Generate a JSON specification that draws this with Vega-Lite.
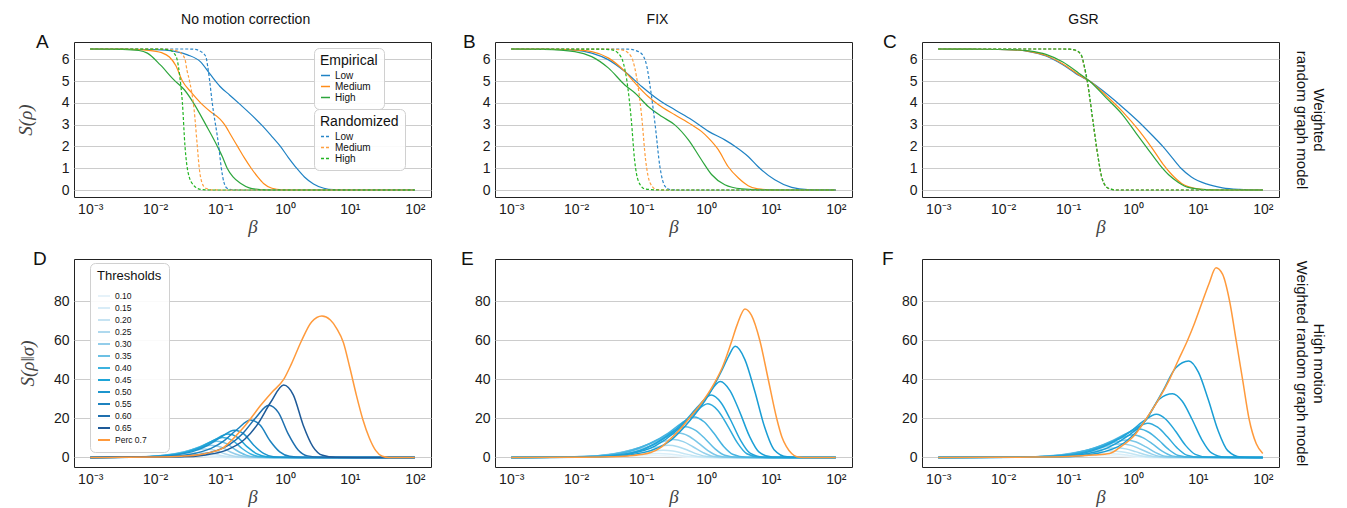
{
"$schema":"https://vega.github.io/schema/vega-lite/v6.json",
"background":"white",
"padding":{"left":15,"top":12,"right":2,"bottom":0},
"config":{
 "font":"Liberation Sans",
 "view":{"stroke":"#222222","strokeWidth":1},
 "axis":{"labelFont":"Liberation Sans","labelFontSize":14,"labelColor":"#1a1a1a","labelOverlap":false,"ticks":false,"domain":false,"labelPadding":5,"gridColor":"#cccccc","gridWidth":1,"titleFont":"Liberation Serif","titleFontStyle":"italic","titleFontWeight":"normal","titleFontSize":19,"titleColor":"#444444"},
 "axisX":{"grid":false,"titlePadding":1},
 "axisY":{"grid":true},
 "title":{"font":"Liberation Sans","fontWeight":"normal","color":"#111111"},
 "legend":{"symbolType":"stroke","labelFont":"Liberation Sans","titleFont":"Liberation Sans","titleFontWeight":"normal","labelColor":"#111111","titleColor":"#111111","fillColor":"rgba(255,255,255,0.9)","strokeColor":"#d0d0d0","cornerRadius":5}
},
"datasets":{
"A_emp":[
{"s":"Low","x":-3,"y":6.47},{"s":"Low","x":-2.5,"y":6.46},{"s":"Low","x":-2,"y":6.44},{"s":"Low","x":-1.7,"y":6.36},{"s":"Low","x":-1.5,"y":6.2},{"s":"Low","x":-1.3,"y":5.88},{"s":"Low","x":-1.15,"y":5.3},{"s":"Low","x":-1.0,"y":4.75},{"s":"Low","x":-0.85,"y":4.35},{"s":"Low","x":-0.7,"y":3.95},{"s":"Low","x":-0.5,"y":3.4},{"s":"Low","x":-0.35,"y":2.95},{"s":"Low","x":-0.2,"y":2.45},{"s":"Low","x":-0.07,"y":2.0},{"s":"Low","x":0.05,"y":1.5},{"s":"Low","x":0.18,"y":1.0},{"s":"Low","x":0.3,"y":0.6},{"s":"Low","x":0.44,"y":0.28},{"s":"Low","x":0.6,"y":0.08},{"s":"Low","x":0.75,"y":0.015},{"s":"Low","x":1,"y":0},{"s":"Low","x":2,"y":0},
{"s":"Medium","x":-3,"y":6.47},{"s":"Medium","x":-2.5,"y":6.46},{"s":"Medium","x":-2.1,"y":6.41},{"s":"Medium","x":-1.9,"y":6.3},{"s":"Medium","x":-1.78,"y":6.1},{"s":"Medium","x":-1.68,"y":5.7},{"s":"Medium","x":-1.58,"y":5.0},{"s":"Medium","x":-1.45,"y":4.5},{"s":"Medium","x":-1.3,"y":4.0},{"s":"Medium","x":-1.15,"y":3.6},{"s":"Medium","x":-1.0,"y":3.25},{"s":"Medium","x":-0.93,"y":3.0},{"s":"Medium","x":-0.83,"y":2.5},{"s":"Medium","x":-0.73,"y":2.0},{"s":"Medium","x":-0.62,"y":1.45},{"s":"Medium","x":-0.52,"y":1.0},{"s":"Medium","x":-0.42,"y":0.6},{"s":"Medium","x":-0.33,"y":0.3},{"s":"Medium","x":-0.2,"y":0.08},{"s":"Medium","x":-0.05,"y":0.01},{"s":"Medium","x":0.3,"y":0},{"s":"Medium","x":2,"y":0},
{"s":"High","x":-3,"y":6.47},{"s":"High","x":-2.5,"y":6.45},{"s":"High","x":-2.25,"y":6.4},{"s":"High","x":-2.12,"y":6.28},{"s":"High","x":-1.92,"y":5.74},{"s":"High","x":-1.71,"y":5.05},{"s":"High","x":-1.55,"y":4.6},{"s":"High","x":-1.41,"y":4.0},{"s":"High","x":-1.22,"y":3.0},{"s":"High","x":-1.04,"y":2.0},{"s":"High","x":-0.96,"y":1.5},{"s":"High","x":-0.89,"y":1.0},{"s":"High","x":-0.8,"y":0.6},{"s":"High","x":-0.68,"y":0.3},{"s":"High","x":-0.55,"y":0.1},{"s":"High","x":-0.45,"y":0.04},{"s":"High","x":-0.3,"y":0.01},{"s":"High","x":0,"y":0},{"s":"High","x":2,"y":0}
],
"A_rnd":[
{"s":"Low","x":-3,"y":6.47},{"s":"Low","x":-1.5,"y":6.47},{"s":"Low","x":-1.38,"y":6.45},{"s":"Low","x":-1.3,"y":6.36},{"s":"Low","x":-1.22,"y":6.13},{"s":"Low","x":-1.19,"y":5.67},{"s":"Low","x":-1.16,"y":5.0},{"s":"Low","x":-1.12,"y":4.0},{"s":"Low","x":-1.02,"y":2.0},{"s":"Low","x":-0.98,"y":1.0},{"s":"Low","x":-0.94,"y":0.35},{"s":"Low","x":-0.89,"y":0.08},{"s":"Low","x":-0.8,"y":0.01},{"s":"Low","x":-0.6,"y":0},{"s":"Low","x":2,"y":0},
{"s":"Medium","x":-3,"y":6.47},{"s":"Medium","x":-1.85,"y":6.46},{"s":"Medium","x":-1.71,"y":6.42},{"s":"Medium","x":-1.61,"y":6.3},{"s":"Medium","x":-1.54,"y":6.0},{"s":"Medium","x":-1.51,"y":5.5},{"s":"Medium","x":-1.47,"y":5.0},{"s":"Medium","x":-1.4,"y":3.7},{"s":"Medium","x":-1.35,"y":2.0},{"s":"Medium","x":-1.32,"y":1.0},{"s":"Medium","x":-1.28,"y":0.35},{"s":"Medium","x":-1.22,"y":0.08},{"s":"Medium","x":-1.12,"y":0.01},{"s":"Medium","x":-0.9,"y":0},{"s":"Medium","x":2,"y":0},
{"s":"High","x":-3,"y":6.47},{"s":"High","x":-1.9,"y":6.46},{"s":"High","x":-1.76,"y":6.4},{"s":"High","x":-1.71,"y":6.28},{"s":"High","x":-1.66,"y":5.97},{"s":"High","x":-1.62,"y":5.2},{"s":"High","x":-1.58,"y":4.0},{"s":"High","x":-1.54,"y":2.0},{"s":"High","x":-1.49,"y":0.77},{"s":"High","x":-1.41,"y":0.23},{"s":"High","x":-1.3,"y":0.03},{"s":"High","x":-1.1,"y":0},{"s":"High","x":2,"y":0}
],
"B_emp":[
{"s":"Low","x":-3,"y":6.47},{"s":"Low","x":-2.5,"y":6.46},{"s":"Low","x":-2.02,"y":6.42},{"s":"Low","x":-1.76,"y":6.28},{"s":"Low","x":-1.5,"y":5.97},{"s":"Low","x":-1.25,"y":5.44},{"s":"Low","x":-0.99,"y":4.75},{"s":"Low","x":-0.73,"y":4.14},{"s":"Low","x":-0.48,"y":3.68},{"s":"Low","x":-0.22,"y":3.22},{"s":"Low","x":0.04,"y":2.69},{"s":"Low","x":0.29,"y":2.3},{"s":"Low","x":0.45,"y":2.0},{"s":"Low","x":0.65,"y":1.54},{"s":"Low","x":0.8,"y":1.08},{"s":"Low","x":1.06,"y":0.47},{"s":"Low","x":1.32,"y":0.12},{"s":"Low","x":1.57,"y":0.02},{"s":"Low","x":2,"y":0},
{"s":"Medium","x":-3,"y":6.47},{"s":"Medium","x":-2.5,"y":6.46},{"s":"Medium","x":-2.02,"y":6.42},{"s":"Medium","x":-1.76,"y":6.35},{"s":"Medium","x":-1.5,"y":6.05},{"s":"Medium","x":-1.25,"y":5.44},{"s":"Medium","x":-1.09,"y":4.9},{"s":"Medium","x":-0.89,"y":4.29},{"s":"Medium","x":-0.73,"y":3.91},{"s":"Medium","x":-0.48,"y":3.45},{"s":"Medium","x":-0.22,"y":2.99},{"s":"Medium","x":-0.07,"y":2.69},{"s":"Medium","x":0.04,"y":2.38},{"s":"Medium","x":0.19,"y":1.85},{"s":"Medium","x":0.34,"y":1.08},{"s":"Medium","x":0.5,"y":0.55},{"s":"Medium","x":0.65,"y":0.2},{"s":"Medium","x":0.8,"y":0.05},{"s":"Medium","x":1.1,"y":0},{"s":"Medium","x":2,"y":0},
{"s":"High","x":-3,"y":6.47},{"s":"High","x":-2.5,"y":6.45},{"s":"High","x":-2.02,"y":6.35},{"s":"High","x":-1.76,"y":6.12},{"s":"High","x":-1.5,"y":5.59},{"s":"High","x":-1.25,"y":4.82},{"s":"High","x":-1.09,"y":4.44},{"s":"High","x":-0.89,"y":3.83},{"s":"High","x":-0.68,"y":3.37},{"s":"High","x":-0.48,"y":2.99},{"s":"High","x":-0.27,"y":2.3},{"s":"High","x":-0.07,"y":1.39},{"s":"High","x":0.09,"y":0.7},{"s":"High","x":0.29,"y":0.24},{"s":"High","x":0.55,"y":0.05},{"s":"High","x":0.8,"y":0.01},{"s":"High","x":1.2,"y":0},{"s":"High","x":2,"y":0}
],
"B_rnd":[
{"s":"Low","x":-3,"y":6.47},{"s":"Low","x":-1.2,"y":6.46},{"s":"Low","x":-1.04,"y":6.35},{"s":"Low","x":-0.96,"y":6.12},{"s":"Low","x":-0.91,"y":5.66},{"s":"Low","x":-0.86,"y":4.75},{"s":"Low","x":-0.78,"y":2.92},{"s":"Low","x":-0.71,"y":1.08},{"s":"Low","x":-0.63,"y":0.17},{"s":"Low","x":-0.55,"y":0.02},{"s":"Low","x":-0.4,"y":0},{"s":"Low","x":2,"y":0},
{"s":"Medium","x":-3,"y":6.47},{"s":"Medium","x":-1.45,"y":6.46},{"s":"Medium","x":-1.3,"y":6.43},{"s":"Medium","x":-1.19,"y":6.27},{"s":"Medium","x":-1.12,"y":5.88},{"s":"Medium","x":-1.07,"y":5.2},{"s":"Medium","x":-0.99,"y":3.37},{"s":"Medium","x":-0.93,"y":1.39},{"s":"Medium","x":-0.86,"y":0.32},{"s":"Medium","x":-0.76,"y":0.02},{"s":"Medium","x":-0.5,"y":0},{"s":"Medium","x":2,"y":0},
{"s":"High","x":-3,"y":6.47},{"s":"High","x":-1.6,"y":6.46},{"s":"High","x":-1.45,"y":6.43},{"s":"High","x":-1.35,"y":6.27},{"s":"High","x":-1.27,"y":5.8},{"s":"High","x":-1.22,"y":5.05},{"s":"High","x":-1.15,"y":3.21},{"s":"High","x":-1.1,"y":1.39},{"s":"High","x":-1.04,"y":0.4},{"s":"High","x":-0.94,"y":0.05},{"s":"High","x":-0.7,"y":0},{"s":"High","x":2,"y":0}
],
"C_emp":[
{"s":"Low","x":-3,"y":6.47},{"s":"Low","x":-2.5,"y":6.46},{"s":"Low","x":-1.85,"y":6.43},{"s":"Low","x":-1.6,"y":6.35},{"s":"Low","x":-1.34,"y":6.15},{"s":"Low","x":-1.08,"y":5.75},{"s":"Low","x":-0.83,"y":5.25},{"s":"Low","x":-0.67,"y":5.0},{"s":"Low","x":-0.42,"y":4.45},{"s":"Low","x":-0.16,"y":3.8},{"s":"Low","x":0.1,"y":3.1},{"s":"Low","x":0.3,"y":2.5},{"s":"Low","x":0.46,"y":2.0},{"s":"Low","x":0.6,"y":1.5},{"s":"Low","x":0.74,"y":1.0},{"s":"Low","x":0.9,"y":0.6},{"s":"Low","x":1.13,"y":0.28},{"s":"Low","x":1.38,"y":0.1},{"s":"Low","x":1.64,"y":0.03},{"s":"Low","x":2,"y":0},
{"s":"Medium","x":-3,"y":6.47},{"s":"Medium","x":-2.5,"y":6.46},{"s":"Medium","x":-1.85,"y":6.43},{"s":"Medium","x":-1.6,"y":6.36},{"s":"Medium","x":-1.34,"y":6.17},{"s":"Medium","x":-1.08,"y":5.78},{"s":"Medium","x":-0.83,"y":5.28},{"s":"Medium","x":-0.67,"y":5.0},{"s":"Medium","x":-0.42,"y":4.35},{"s":"Medium","x":-0.16,"y":3.6},{"s":"Medium","x":0.1,"y":2.7},{"s":"Medium","x":0.3,"y":1.9},{"s":"Medium","x":0.46,"y":1.2},{"s":"Medium","x":0.6,"y":0.7},{"s":"Medium","x":0.75,"y":0.3},{"s":"Medium","x":0.95,"y":0.08},{"s":"Medium","x":1.2,"y":0.01},{"s":"Medium","x":1.5,"y":0},{"s":"Medium","x":2,"y":0},
{"s":"High","x":-3,"y":6.47},{"s":"High","x":-2.5,"y":6.46},{"s":"High","x":-1.85,"y":6.44},{"s":"High","x":-1.6,"y":6.38},{"s":"High","x":-1.34,"y":6.22},{"s":"High","x":-1.08,"y":5.87},{"s":"High","x":-0.83,"y":5.35},{"s":"High","x":-0.67,"y":5.0},{"s":"High","x":-0.42,"y":4.25},{"s":"High","x":-0.16,"y":3.45},{"s":"High","x":0.05,"y":2.6},{"s":"High","x":0.25,"y":1.8},{"s":"High","x":0.4,"y":1.2},{"s":"High","x":0.55,"y":0.7},{"s":"High","x":0.7,"y":0.35},{"s":"High","x":0.85,"y":0.12},{"s":"High","x":1.05,"y":0.03},{"s":"High","x":1.3,"y":0},{"s":"High","x":2,"y":0}
],
"C_rnd":[
{"s":"Low","x":-3,"y":6.47},{"s":"Low","x":-1.1,"y":6.47},{"s":"Low","x":-0.98,"y":6.46},{"s":"Low","x":-0.88,"y":6.4},{"s":"Low","x":-0.8,"y":6.2},{"s":"Low","x":-0.75,"y":5.66},{"s":"Low","x":-0.7,"y":4.9},{"s":"Low","x":-0.62,"y":3.22},{"s":"Low","x":-0.54,"y":1.54},{"s":"Low","x":-0.47,"y":0.47},{"s":"Low","x":-0.38,"y":0.08},{"s":"Low","x":-0.25,"y":0},{"s":"Low","x":2,"y":0},
{"s":"Medium","x":-3,"y":6.47},{"s":"Medium","x":-1.1,"y":6.47},{"s":"Medium","x":-0.98,"y":6.46},{"s":"Medium","x":-0.88,"y":6.4},{"s":"Medium","x":-0.8,"y":6.2},{"s":"Medium","x":-0.75,"y":5.66},{"s":"Medium","x":-0.7,"y":4.9},{"s":"Medium","x":-0.62,"y":3.22},{"s":"Medium","x":-0.54,"y":1.54},{"s":"Medium","x":-0.47,"y":0.47},{"s":"Medium","x":-0.38,"y":0.08},{"s":"Medium","x":-0.25,"y":0},{"s":"Medium","x":2,"y":0},
{"s":"High","x":-3,"y":6.47},{"s":"High","x":-1.1,"y":6.47},{"s":"High","x":-0.98,"y":6.46},{"s":"High","x":-0.88,"y":6.41},{"s":"High","x":-0.8,"y":6.22},{"s":"High","x":-0.75,"y":5.7},{"s":"High","x":-0.7,"y":4.95},{"s":"High","x":-0.62,"y":3.25},{"s":"High","x":-0.54,"y":1.56},{"s":"High","x":-0.47,"y":0.48},{"s":"High","x":-0.38,"y":0.08},{"s":"High","x":-0.25,"y":0},{"s":"High","x":2,"y":0}
],
"D":[
{"s":"0.10","x":-3,"y":0},{"s":"0.10","x":-2.6,"y":0.03},{"s":"0.10","x":-2.1,"y":0.12},{"s":"0.10","x":-1.9,"y":0.23},{"s":"0.10","x":-1.7,"y":0.38},{"s":"0.10","x":-1.5,"y":0.5},{"s":"0.10","x":-1.35,"y":0.43},{"s":"0.10","x":-1.2,"y":0.23},{"s":"0.10","x":-1.05,"y":0.08},{"s":"0.10","x":-0.9,"y":0.02},{"s":"0.10","x":-0.6,"y":0},{"s":"0.10","x":2,"y":0},
{"s":"0.15","x":-3,"y":0},{"s":"0.15","x":-2.6,"y":0.05},{"s":"0.15","x":-2.0,"y":0.3},{"s":"0.15","x":-1.8,"y":0.6},{"s":"0.15","x":-1.6,"y":1.0},{"s":"0.15","x":-1.41,"y":1.3},{"s":"0.15","x":-1.26,"y":1.1},{"s":"0.15","x":-1.11,"y":0.6},{"s":"0.15","x":-0.96,"y":0.2},{"s":"0.15","x":-0.8,"y":0.04},{"s":"0.15","x":-0.5,"y":0},{"s":"0.15","x":2,"y":0},
{"s":"0.20","x":-3,"y":0},{"s":"0.20","x":-2.52,"y":0.09},{"s":"0.20","x":-2.22,"y":0.25},{"s":"0.20","x":-1.92,"y":0.65},{"s":"0.20","x":-1.72,"y":1.2},{"s":"0.20","x":-1.52,"y":2},{"s":"0.20","x":-1.32,"y":2.6},{"s":"0.20","x":-1.17,"y":2.2},{"s":"0.20","x":-1.02,"y":1.2},{"s":"0.20","x":-0.87,"y":0.4},{"s":"0.20","x":-0.72,"y":0.08},{"s":"0.20","x":-0.52,"y":0.01},{"s":"0.20","x":0,"y":0},{"s":"0.20","x":2,"y":0},
{"s":"0.25","x":-3,"y":0},{"s":"0.25","x":-2.43,"y":0.15},{"s":"0.25","x":-2.13,"y":0.4},{"s":"0.25","x":-1.83,"y":1.1},{"s":"0.25","x":-1.63,"y":2},{"s":"0.25","x":-1.43,"y":3.3},{"s":"0.25","x":-1.23,"y":4.3},{"s":"0.25","x":-1.08,"y":3.7},{"s":"0.25","x":-0.93,"y":1.9},{"s":"0.25","x":-0.78,"y":0.65},{"s":"0.25","x":-0.63,"y":0.13},{"s":"0.25","x":-0.43,"y":0.01},{"s":"0.25","x":0,"y":0},{"s":"0.25","x":2,"y":0},
{"s":"0.30","x":-3,"y":0},{"s":"0.30","x":-2.74,"y":0.05},{"s":"0.30","x":-2.34,"y":0.22},{"s":"0.30","x":-2.04,"y":0.6},{"s":"0.30","x":-1.74,"y":1.6},{"s":"0.30","x":-1.54,"y":2.9},{"s":"0.30","x":-1.34,"y":4.8},{"s":"0.30","x":-1.14,"y":6.3},{"s":"0.30","x":-0.99,"y":5.4},{"s":"0.30","x":-0.84,"y":2.8},{"s":"0.30","x":-0.69,"y":0.95},{"s":"0.30","x":-0.54,"y":0.19},{"s":"0.30","x":-0.34,"y":0.02},{"s":"0.30","x":0,"y":0},{"s":"0.30","x":2,"y":0},
{"s":"0.35","x":-3,"y":0},{"s":"0.35","x":-2.65,"y":0.07},{"s":"0.35","x":-2.25,"y":0.3},{"s":"0.35","x":-1.95,"y":0.8},{"s":"0.35","x":-1.65,"y":2.1},{"s":"0.35","x":-1.45,"y":3.8},{"s":"0.35","x":-1.25,"y":6.3},{"s":"0.35","x":-1.05,"y":8.3},{"s":"0.35","x":-0.9,"y":7.1},{"s":"0.35","x":-0.75,"y":3.7},{"s":"0.35","x":-0.6,"y":1.2},{"s":"0.35","x":-0.45,"y":0.25},{"s":"0.35","x":-0.25,"y":0.02},{"s":"0.35","x":0.1,"y":0},{"s":"0.35","x":2,"y":0},
{"s":"0.40","x":-3,"y":0},{"s":"0.40","x":-2.56,"y":0.08},{"s":"0.40","x":-2.16,"y":0.36},{"s":"0.40","x":-1.86,"y":1},{"s":"0.40","x":-1.56,"y":2.6},{"s":"0.40","x":-1.36,"y":4.7},{"s":"0.40","x":-1.16,"y":7.8},{"s":"0.40","x":-0.96,"y":10.2},{"s":"0.40","x":-0.81,"y":8.8},{"s":"0.40","x":-0.66,"y":4.6},{"s":"0.40","x":-0.51,"y":1.5},{"s":"0.40","x":-0.36,"y":0.3},{"s":"0.40","x":-0.16,"y":0.03},{"s":"0.40","x":0.2,"y":0},{"s":"0.40","x":2,"y":0},
{"s":"0.45","x":-3,"y":0},{"s":"0.45","x":-2.48,"y":0.1},{"s":"0.45","x":-2.08,"y":0.4},{"s":"0.45","x":-1.78,"y":1.1},{"s":"0.45","x":-1.48,"y":3},{"s":"0.45","x":-1.28,"y":5.5},{"s":"0.45","x":-1.08,"y":9.1},{"s":"0.45","x":-0.88,"y":12},{"s":"0.45","x":-0.73,"y":10.3},{"s":"0.45","x":-0.58,"y":5.4},{"s":"0.45","x":-0.43,"y":1.8},{"s":"0.45","x":-0.28,"y":0.36},{"s":"0.45","x":-0.08,"y":0.04},{"s":"0.45","x":0.3,"y":0},{"s":"0.45","x":2,"y":0},
{"s":"0.50","x":-3,"y":0},{"s":"0.50","x":-2.38,"y":0.1},{"s":"0.50","x":-1.98,"y":0.5},{"s":"0.50","x":-1.68,"y":1.3},{"s":"0.50","x":-1.38,"y":3.5},{"s":"0.50","x":-1.18,"y":6.4},{"s":"0.50","x":-0.98,"y":10.6},{"s":"0.50","x":-0.78,"y":14},{"s":"0.50","x":-0.63,"y":12},{"s":"0.50","x":-0.48,"y":6.3},{"s":"0.50","x":-0.33,"y":2.1},{"s":"0.50","x":-0.18,"y":0.4},{"s":"0.50","x":0.02,"y":0.04},{"s":"0.50","x":0.4,"y":0},{"s":"0.50","x":2,"y":0},
{"s":"0.55","x":-3,"y":0},{"s":"0.55","x":-2.13,"y":0.15},{"s":"0.55","x":-1.73,"y":0.7},{"s":"0.55","x":-1.43,"y":1.8},{"s":"0.55","x":-1.13,"y":4.8},{"s":"0.55","x":-0.93,"y":8.8},{"s":"0.55","x":-0.73,"y":14.6},{"s":"0.55","x":-0.53,"y":19.2},{"s":"0.55","x":-0.38,"y":16.5},{"s":"0.55","x":-0.23,"y":8.6},{"s":"0.55","x":-0.08,"y":2.9},{"s":"0.55","x":0.07,"y":0.6},{"s":"0.55","x":0.27,"y":0.06},{"s":"0.55","x":0.6,"y":0},{"s":"0.55","x":2,"y":0},
{"s":"0.60","x":-3,"y":0},{"s":"0.60","x":-1.85,"y":0.2},{"s":"0.60","x":-1.45,"y":0.9},{"s":"0.60","x":-1.15,"y":2.5},{"s":"0.60","x":-0.85,"y":6.7},{"s":"0.60","x":-0.65,"y":12.3},{"s":"0.60","x":-0.45,"y":20.4},{"s":"0.60","x":-0.25,"y":26.8},{"s":"0.60","x":-0.1,"y":23},{"s":"0.60","x":0.05,"y":12.1},{"s":"0.60","x":0.2,"y":4},{"s":"0.60","x":0.35,"y":0.8},{"s":"0.60","x":0.55,"y":0.1},{"s":"0.60","x":0.9,"y":0},{"s":"0.60","x":2,"y":0},
{"s":"0.65","x":-3,"y":0},{"s":"0.65","x":-1.62,"y":0.3},{"s":"0.65","x":-1.22,"y":1.3},{"s":"0.65","x":-0.92,"y":3.5},{"s":"0.65","x":-0.62,"y":9.3},{"s":"0.65","x":-0.42,"y":17.1},{"s":"0.65","x":-0.22,"y":28.3},{"s":"0.65","x":-0.02,"y":37.2},{"s":"0.65","x":0.13,"y":32},{"s":"0.65","x":0.28,"y":16.7},{"s":"0.65","x":0.43,"y":5.6},{"s":"0.65","x":0.58,"y":1.1},{"s":"0.65","x":0.78,"y":0.1},{"s":"0.65","x":1.1,"y":0},{"s":"0.65","x":2,"y":0},
{"s":"Perc 0.7","x":-3,"y":0},{"s":"Perc 0.7","x":-2.5,"y":0.05},{"s":"Perc 0.7","x":-2,"y":0.2},{"s":"Perc 0.7","x":-1.6,"y":0.6},{"s":"Perc 0.7","x":-1.3,"y":1.5},{"s":"Perc 0.7","x":-1.1,"y":3},{"s":"Perc 0.7","x":-0.97,"y":4.5},{"s":"Perc 0.7","x":-0.83,"y":8.5},{"s":"Perc 0.7","x":-0.69,"y":13.4},{"s":"Perc 0.7","x":-0.55,"y":19},{"s":"Perc 0.7","x":-0.38,"y":26.5},{"s":"Perc 0.7","x":-0.2,"y":33.5},{"s":"Perc 0.7","x":-0.02,"y":40},{"s":"Perc 0.7","x":0.1,"y":48},{"s":"Perc 0.7","x":0.25,"y":59.5},{"s":"Perc 0.7","x":0.41,"y":69.5},{"s":"Perc 0.7","x":0.57,"y":72.5},{"s":"Perc 0.7","x":0.7,"y":70.5},{"s":"Perc 0.7","x":0.8,"y":66},{"s":"Perc 0.7","x":0.9,"y":59},{"s":"Perc 0.7","x":1.0,"y":46},{"s":"Perc 0.7","x":1.1,"y":32},{"s":"Perc 0.7","x":1.2,"y":19.5},{"s":"Perc 0.7","x":1.3,"y":10},{"s":"Perc 0.7","x":1.4,"y":3.5},{"s":"Perc 0.7","x":1.5,"y":0.6},{"s":"Perc 0.7","x":1.6,"y":0},{"s":"Perc 0.7","x":2,"y":0}
],
"E":[
{"s":"0.10","x":-3,"y":0},{"s":"0.10","x":-2.2,"y":0.05},{"s":"0.10","x":-1.8,"y":0.15},{"s":"0.10","x":-1.5,"y":0.33},{"s":"0.10","x":-1.2,"y":0.6},{"s":"0.10","x":-1.0,"y":0.84},{"s":"0.10","x":-0.8,"y":1},{"s":"0.10","x":-0.65,"y":0.88},{"s":"0.10","x":-0.5,"y":0.6},{"s":"0.10","x":-0.35,"y":0.28},{"s":"0.10","x":-0.2,"y":0.07},{"s":"0.10","x":0.1,"y":0},{"s":"0.10","x":2,"y":0},
{"s":"0.15","x":-3,"y":0},{"s":"0.15","x":-2.13,"y":0.09},{"s":"0.15","x":-1.73,"y":0.3},{"s":"0.15","x":-1.43,"y":0.66},{"s":"0.15","x":-1.13,"y":1.2},{"s":"0.15","x":-0.93,"y":1.7},{"s":"0.15","x":-0.73,"y":2},{"s":"0.15","x":-0.58,"y":1.76},{"s":"0.15","x":-0.43,"y":1.2},{"s":"0.15","x":-0.28,"y":0.56},{"s":"0.15","x":-0.13,"y":0.14},{"s":"0.15","x":0.1,"y":0},{"s":"0.15","x":2,"y":0},
{"s":"0.20","x":-3,"y":0},{"s":"0.20","x":-2.06,"y":0.17},{"s":"0.20","x":-1.66,"y":0.56},{"s":"0.20","x":-1.36,"y":1.2},{"s":"0.20","x":-1.06,"y":2.2},{"s":"0.20","x":-0.86,"y":3.1},{"s":"0.20","x":-0.66,"y":3.7},{"s":"0.20","x":-0.51,"y":3.3},{"s":"0.20","x":-0.36,"y":2.2},{"s":"0.20","x":-0.21,"y":1},{"s":"0.20","x":-0.06,"y":0.26},{"s":"0.20","x":0.14,"y":0.02},{"s":"0.20","x":0.5,"y":0},{"s":"0.20","x":2,"y":0},
{"s":"0.25","x":-3,"y":0},{"s":"0.25","x":-2.58,"y":0.03},{"s":"0.25","x":-1.98,"y":0.28},{"s":"0.25","x":-1.58,"y":0.93},{"s":"0.25","x":-1.28,"y":2},{"s":"0.25","x":-0.98,"y":3.7},{"s":"0.25","x":-0.78,"y":5.2},{"s":"0.25","x":-0.58,"y":6.2},{"s":"0.25","x":-0.43,"y":5.5},{"s":"0.25","x":-0.28,"y":3.7},{"s":"0.25","x":-0.13,"y":1.7},{"s":"0.25","x":0.02,"y":0.43},{"s":"0.25","x":0.22,"y":0.03},{"s":"0.25","x":0.6,"y":0},{"s":"0.25","x":2,"y":0},
{"s":"0.30","x":-3,"y":0},{"s":"0.30","x":-2.5,"y":0.05},{"s":"0.30","x":-1.9,"y":0.41},{"s":"0.30","x":-1.5,"y":1.4},{"s":"0.30","x":-1.2,"y":3},{"s":"0.30","x":-0.9,"y":5.5},{"s":"0.30","x":-0.7,"y":7.7},{"s":"0.30","x":-0.5,"y":9.2},{"s":"0.30","x":-0.35,"y":8.1},{"s":"0.30","x":-0.2,"y":5.5},{"s":"0.30","x":-0.05,"y":2.6},{"s":"0.30","x":0.1,"y":0.64},{"s":"0.30","x":0.3,"y":0.05},{"s":"0.30","x":0.7,"y":0},{"s":"0.30","x":2,"y":0},
{"s":"0.35","x":-3,"y":0},{"s":"0.35","x":-2.42,"y":0.06},{"s":"0.35","x":-1.82,"y":0.56},{"s":"0.35","x":-1.42,"y":1.9},{"s":"0.35","x":-1.12,"y":4.1},{"s":"0.35","x":-0.82,"y":7.5},{"s":"0.35","x":-0.62,"y":10.5},{"s":"0.35","x":-0.42,"y":12.5},{"s":"0.35","x":-0.27,"y":11},{"s":"0.35","x":-0.12,"y":7.5},{"s":"0.35","x":0.03,"y":3.5},{"s":"0.35","x":0.18,"y":0.9},{"s":"0.35","x":0.38,"y":0.06},{"s":"0.35","x":0.8,"y":0},{"s":"0.35","x":2,"y":0},
{"s":"0.40","x":-3,"y":0},{"s":"0.40","x":-2.31,"y":0.08},{"s":"0.40","x":-1.71,"y":0.7},{"s":"0.40","x":-1.31,"y":2.4},{"s":"0.40","x":-1.01,"y":5.2},{"s":"0.40","x":-0.71,"y":9.5},{"s":"0.40","x":-0.51,"y":13.3},{"s":"0.40","x":-0.31,"y":15.8},{"s":"0.40","x":-0.16,"y":13.9},{"s":"0.40","x":-0.01,"y":9.5},{"s":"0.40","x":0.14,"y":4.4},{"s":"0.40","x":0.29,"y":1.1},{"s":"0.40","x":0.49,"y":0.08},{"s":"0.40","x":0.9,"y":0},{"s":"0.40","x":2,"y":0},
{"s":"0.45","x":-3,"y":0},{"s":"0.45","x":-2.18,"y":0.1},{"s":"0.45","x":-1.58,"y":0.94},{"s":"0.45","x":-1.18,"y":3.1},{"s":"0.45","x":-0.88,"y":6.9},{"s":"0.45","x":-0.58,"y":12.5},{"s":"0.45","x":-0.38,"y":17.5},{"s":"0.45","x":-0.18,"y":20.8},{"s":"0.45","x":-0.03,"y":18.3},{"s":"0.45","x":0.12,"y":12.5},{"s":"0.45","x":0.27,"y":5.8},{"s":"0.45","x":0.42,"y":1.5},{"s":"0.45","x":0.62,"y":0.1},{"s":"0.45","x":1,"y":0},{"s":"0.45","x":2,"y":0},
{"s":"0.50","x":-3,"y":0},{"s":"0.50","x":-1.97,"y":0.14},{"s":"0.50","x":-1.37,"y":1.2},{"s":"0.50","x":-0.97,"y":4.1},{"s":"0.50","x":-0.67,"y":9.1},{"s":"0.50","x":-0.37,"y":16.5},{"s":"0.50","x":-0.17,"y":23.1},{"s":"0.50","x":0.03,"y":27.5},{"s":"0.50","x":0.18,"y":24.2},{"s":"0.50","x":0.33,"y":16.5},{"s":"0.50","x":0.48,"y":7.7},{"s":"0.50","x":0.63,"y":1.9},{"s":"0.50","x":0.83,"y":0.14},{"s":"0.50","x":1.1,"y":0},{"s":"0.50","x":2,"y":0},
{"s":"0.55","x":-3,"y":0},{"s":"0.55","x":-1.92,"y":0.16},{"s":"0.55","x":-1.32,"y":1.4},{"s":"0.55","x":-0.92,"y":4.8},{"s":"0.55","x":-0.62,"y":10.5},{"s":"0.55","x":-0.32,"y":18.8},{"s":"0.55","x":-0.12,"y":26.2},{"s":"0.55","x":0.08,"y":32},{"s":"0.55","x":0.23,"y":28.2},{"s":"0.55","x":0.38,"y":19.2},{"s":"0.55","x":0.53,"y":9},{"s":"0.55","x":0.68,"y":2.2},{"s":"0.55","x":0.88,"y":0.16},{"s":"0.55","x":1.2,"y":0},{"s":"0.55","x":2,"y":0},
{"s":"0.60","x":-3,"y":0},{"s":"0.60","x":-1.78,"y":0.2},{"s":"0.60","x":-1.18,"y":1.8},{"s":"0.60","x":-0.78,"y":5.9},{"s":"0.60","x":-0.48,"y":12.9},{"s":"0.60","x":-0.18,"y":23.2},{"s":"0.60","x":0.02,"y":31.5},{"s":"0.60","x":0.22,"y":39},{"s":"0.60","x":0.37,"y":34.3},{"s":"0.60","x":0.52,"y":23.4},{"s":"0.60","x":0.67,"y":10.9},{"s":"0.60","x":0.82,"y":2.7},{"s":"0.60","x":1.02,"y":0.2},{"s":"0.60","x":1.3,"y":0},{"s":"0.60","x":2,"y":0},
{"s":"0.65","x":-3,"y":0},{"s":"0.65","x":-1.55,"y":0.3},{"s":"0.65","x":-0.95,"y":2.6},{"s":"0.65","x":-0.55,"y":8.6},{"s":"0.65","x":-0.25,"y":18.8},{"s":"0.65","x":0.05,"y":32.5},{"s":"0.65","x":0.25,"y":45},{"s":"0.65","x":0.35,"y":52},{"s":"0.65","x":0.45,"y":57},{"s":"0.65","x":0.6,"y":50.2},{"s":"0.65","x":0.75,"y":34.2},{"s":"0.65","x":0.9,"y":16},{"s":"0.65","x":1.05,"y":4},{"s":"0.65","x":1.25,"y":0.3},{"s":"0.65","x":1.5,"y":0},{"s":"0.65","x":2,"y":0},
{"s":"Perc 0.7","x":-3,"y":0},{"s":"Perc 0.7","x":-2,"y":0.05},{"s":"Perc 0.7","x":-1.5,"y":0.3},{"s":"Perc 0.7","x":-1.2,"y":0.8},{"s":"Perc 0.7","x":-1.0,"y":1.5},{"s":"Perc 0.7","x":-0.85,"y":2.5},{"s":"Perc 0.7","x":-0.7,"y":5},{"s":"Perc 0.7","x":-0.55,"y":9.5},{"s":"Perc 0.7","x":-0.4,"y":14.5},{"s":"Perc 0.7","x":-0.27,"y":19.6},{"s":"Perc 0.7","x":-0.1,"y":26.5},{"s":"Perc 0.7","x":0.11,"y":37},{"s":"Perc 0.7","x":0.25,"y":46},{"s":"Perc 0.7","x":0.39,"y":59},{"s":"Perc 0.7","x":0.48,"y":68},{"s":"Perc 0.7","x":0.6,"y":76.2},{"s":"Perc 0.7","x":0.7,"y":73},{"s":"Perc 0.7","x":0.83,"y":60},{"s":"Perc 0.7","x":0.96,"y":40},{"s":"Perc 0.7","x":1.09,"y":20},{"s":"Perc 0.7","x":1.17,"y":10.5},{"s":"Perc 0.7","x":1.24,"y":5.5},{"s":"Perc 0.7","x":1.32,"y":2},{"s":"Perc 0.7","x":1.4,"y":0.4},{"s":"Perc 0.7","x":1.5,"y":0},{"s":"Perc 0.7","x":2,"y":0}
],
"F":[
{"s":"0.10","x":-3,"y":0},{"s":"0.10","x":-1.87,"y":0.05},{"s":"0.10","x":-1.47,"y":0.15},{"s":"0.10","x":-1.17,"y":0.33},{"s":"0.10","x":-0.87,"y":0.6},{"s":"0.10","x":-0.67,"y":0.84},{"s":"0.10","x":-0.47,"y":1},{"s":"0.10","x":-0.32,"y":0.88},{"s":"0.10","x":-0.17,"y":0.6},{"s":"0.10","x":-0.02,"y":0.28},{"s":"0.10","x":0.13,"y":0.07},{"s":"0.10","x":0.4,"y":0},{"s":"0.10","x":2,"y":0},
{"s":"0.15","x":-3,"y":0},{"s":"0.15","x":-1.8,"y":0.09},{"s":"0.15","x":-1.4,"y":0.3},{"s":"0.15","x":-1.1,"y":0.66},{"s":"0.15","x":-0.8,"y":1.2},{"s":"0.15","x":-0.6,"y":1.7},{"s":"0.15","x":-0.4,"y":2},{"s":"0.15","x":-0.25,"y":1.76},{"s":"0.15","x":-0.1,"y":1.2},{"s":"0.15","x":0.05,"y":0.56},{"s":"0.15","x":0.2,"y":0.14},{"s":"0.15","x":0.4,"y":0.01},{"s":"0.15","x":2,"y":0},
{"s":"0.20","x":-3,"y":0},{"s":"0.20","x":-1.73,"y":0.15},{"s":"0.20","x":-1.33,"y":0.5},{"s":"0.20","x":-1.03,"y":1.1},{"s":"0.20","x":-0.73,"y":2},{"s":"0.20","x":-0.53,"y":2.8},{"s":"0.20","x":-0.33,"y":3.3},{"s":"0.20","x":-0.18,"y":2.9},{"s":"0.20","x":-0.03,"y":2},{"s":"0.20","x":0.12,"y":0.92},{"s":"0.20","x":0.27,"y":0.23},{"s":"0.20","x":0.47,"y":0.02},{"s":"0.20","x":2,"y":0},
{"s":"0.25","x":-3,"y":0},{"s":"0.25","x":-1.66,"y":0.23},{"s":"0.25","x":-1.26,"y":0.75},{"s":"0.25","x":-0.96,"y":1.65},{"s":"0.25","x":-0.66,"y":3},{"s":"0.25","x":-0.46,"y":4.2},{"s":"0.25","x":-0.26,"y":5},{"s":"0.25","x":-0.11,"y":4.4},{"s":"0.25","x":0.04,"y":3},{"s":"0.25","x":0.19,"y":1.4},{"s":"0.25","x":0.34,"y":0.35},{"s":"0.25","x":0.54,"y":0.03},{"s":"0.25","x":2,"y":0},
{"s":"0.30","x":-3,"y":0},{"s":"0.30","x":-2.18,"y":0.04},{"s":"0.30","x":-1.58,"y":0.32},{"s":"0.30","x":-1.18,"y":1.05},{"s":"0.30","x":-0.88,"y":2.3},{"s":"0.30","x":-0.58,"y":4.2},{"s":"0.30","x":-0.38,"y":5.9},{"s":"0.30","x":-0.18,"y":7},{"s":"0.30","x":-0.03,"y":6.2},{"s":"0.30","x":0.12,"y":4.2},{"s":"0.30","x":0.27,"y":2},{"s":"0.30","x":0.42,"y":0.5},{"s":"0.30","x":0.62,"y":0.04},{"s":"0.30","x":2,"y":0},
{"s":"0.35","x":-3,"y":0},{"s":"0.35","x":-2.1,"y":0.05},{"s":"0.35","x":-1.5,"y":0.4},{"s":"0.35","x":-1.1,"y":1.35},{"s":"0.35","x":-0.8,"y":3},{"s":"0.35","x":-0.5,"y":5.4},{"s":"0.35","x":-0.3,"y":7.6},{"s":"0.35","x":-0.1,"y":9},{"s":"0.35","x":0.05,"y":7.9},{"s":"0.35","x":0.2,"y":5.4},{"s":"0.35","x":0.35,"y":2.5},{"s":"0.35","x":0.5,"y":0.63},{"s":"0.35","x":0.7,"y":0.05},{"s":"0.35","x":2,"y":0},
{"s":"0.40","x":-3,"y":0},{"s":"0.40","x":-2,"y":0.06},{"s":"0.40","x":-1.4,"y":0.52},{"s":"0.40","x":-1,"y":1.7},{"s":"0.40","x":-0.7,"y":3.8},{"s":"0.40","x":-0.4,"y":7},{"s":"0.40","x":-0.2,"y":9.7},{"s":"0.40","x":0,"y":11.6},{"s":"0.40","x":0.15,"y":10.2},{"s":"0.40","x":0.3,"y":7},{"s":"0.40","x":0.45,"y":3.2},{"s":"0.40","x":0.6,"y":0.8},{"s":"0.40","x":0.8,"y":0.06},{"s":"0.40","x":2,"y":0},
{"s":"0.45","x":-3,"y":0},{"s":"0.45","x":-1.9,"y":0.07},{"s":"0.45","x":-1.3,"y":0.66},{"s":"0.45","x":-0.9,"y":2.2},{"s":"0.45","x":-0.6,"y":4.8},{"s":"0.45","x":-0.3,"y":8.8},{"s":"0.45","x":-0.1,"y":12.3},{"s":"0.45","x":0.1,"y":14.6},{"s":"0.45","x":0.25,"y":12.8},{"s":"0.45","x":0.4,"y":8.8},{"s":"0.45","x":0.55,"y":4.1},{"s":"0.45","x":0.7,"y":1},{"s":"0.45","x":0.9,"y":0.07},{"s":"0.45","x":2,"y":0},
{"s":"0.50","x":-3,"y":0},{"s":"0.50","x":-1.77,"y":0.09},{"s":"0.50","x":-1.17,"y":0.8},{"s":"0.50","x":-0.77,"y":2.6},{"s":"0.50","x":-0.47,"y":5.8},{"s":"0.50","x":-0.17,"y":10.6},{"s":"0.50","x":0.03,"y":14.8},{"s":"0.50","x":0.23,"y":17.6},{"s":"0.50","x":0.38,"y":15.5},{"s":"0.50","x":0.53,"y":10.6},{"s":"0.50","x":0.68,"y":4.9},{"s":"0.50","x":0.83,"y":1.2},{"s":"0.50","x":1.03,"y":0.09},{"s":"0.50","x":2,"y":0},
{"s":"0.55","x":-3,"y":0},{"s":"0.55","x":-1.64,"y":0.11},{"s":"0.55","x":-1.04,"y":1},{"s":"0.55","x":-0.64,"y":3.3},{"s":"0.55","x":-0.34,"y":7.3},{"s":"0.55","x":-0.04,"y":13.3},{"s":"0.55","x":0.16,"y":18.6},{"s":"0.55","x":0.36,"y":22.2},{"s":"0.55","x":0.51,"y":19.5},{"s":"0.55","x":0.66,"y":13.3},{"s":"0.55","x":0.81,"y":6.2},{"s":"0.55","x":0.96,"y":1.6},{"s":"0.55","x":1.16,"y":0.11},{"s":"0.55","x":2,"y":0},
{"s":"0.60","x":-3,"y":0},{"s":"0.60","x":-1.39,"y":0.16},{"s":"0.60","x":-0.79,"y":1.5},{"s":"0.60","x":-0.39,"y":4.9},{"s":"0.60","x":-0.09,"y":10.8},{"s":"0.60","x":0.21,"y":19.6},{"s":"0.60","x":0.41,"y":30},{"s":"0.60","x":0.61,"y":32.7},{"s":"0.60","x":0.76,"y":28.8},{"s":"0.60","x":0.91,"y":19.6},{"s":"0.60","x":1.06,"y":9.2},{"s":"0.60","x":1.21,"y":2.3},{"s":"0.60","x":1.41,"y":0.16},{"s":"0.60","x":2,"y":0},
{"s":"0.65","x":-3,"y":0},{"s":"0.65","x":-1.14,"y":0.25},{"s":"0.65","x":-0.54,"y":2.2},{"s":"0.65","x":-0.14,"y":7.4},{"s":"0.65","x":0.16,"y":17.5},{"s":"0.65","x":0.46,"y":34},{"s":"0.65","x":0.66,"y":46},{"s":"0.65","x":0.86,"y":49.5},{"s":"0.65","x":1.01,"y":43.6},{"s":"0.65","x":1.16,"y":29.7},{"s":"0.65","x":1.31,"y":13.9},{"s":"0.65","x":1.46,"y":3.5},{"s":"0.65","x":1.66,"y":0.25},{"s":"0.65","x":2,"y":0},
{"s":"Perc 0.7","x":-3,"y":0},{"s":"Perc 0.7","x":-2,"y":0.05},{"s":"Perc 0.7","x":-1.5,"y":0.2},{"s":"Perc 0.7","x":-1,"y":0.5},{"s":"Perc 0.7","x":-0.6,"y":1.2},{"s":"Perc 0.7","x":-0.36,"y":2},{"s":"Perc 0.7","x":-0.16,"y":6.2},{"s":"Perc 0.7","x":0,"y":10.5},{"s":"Perc 0.7","x":0.2,"y":19.6},{"s":"Perc 0.7","x":0.4,"y":30},{"s":"Perc 0.7","x":0.56,"y":39.8},{"s":"Perc 0.7","x":0.7,"y":50},{"s":"Perc 0.7","x":0.84,"y":60},{"s":"Perc 0.7","x":0.95,"y":69},{"s":"Perc 0.7","x":1.07,"y":80},{"s":"Perc 0.7","x":1.17,"y":89},{"s":"Perc 0.7","x":1.28,"y":97.3},{"s":"Perc 0.7","x":1.38,"y":94},{"s":"Perc 0.7","x":1.49,"y":80},{"s":"Perc 0.7","x":1.59,"y":60},{"s":"Perc 0.7","x":1.69,"y":39.8},{"s":"Perc 0.7","x":1.79,"y":19.6},{"s":"Perc 0.7","x":1.9,"y":7},{"s":"Perc 0.7","x":2,"y":2}
]
},
"resolve":{"scale":{"color":"independent"}},
"spacing":28,
"hconcat":[
{
 "title":{"text":"No motion correction","fontSize":14,"anchor":"middle","dx":22,"offset":6},
 "spacing":12,
 "resolve":{"scale":{"color":"independent"}},
 "vconcat":[
 {
  "width":357,"height":155,
  "title":{"text":"A","anchor":"start","frame":"group","dx":-38,"dy":10,"fontSize":19,"offset":0},
  "resolve":{"scale":{"color":"independent"}},
  "layer":[
   {"data":{"name":"A_emp"},"mark":{"type":"line","interpolate":"monotone","strokeWidth":1.2,"clip":true},
    "encoding":{
     "x":{"field":"x","type":"quantitative","scale":{"domain":[-3.25,2.25],"nice":false,"zero":false},"axis":{"values":[-3,-2,-1,0,1,2],"labelExpr":"datum.value==-3?'10⁻³':datum.value==-2?'10⁻²':datum.value==-1?'10⁻¹':datum.value==0?'10⁰':datum.value==1?'10¹':'10²'","title":"β"}},
     "y":{"field":"y","type":"quantitative","scale":{"domain":[-0.32,6.79],"nice":false,"zero":false},"axis":{"values":[0,1,2,3,4,5,6],"title":"S(ρ)","titlePadding":26}},
     "color":{"field":"s","type":"nominal","scale":{"domain":["Low","Medium","High"],"range":["#1f82c4","#ff8c1a","#2ca53c"]},"legend":{"title":"Empirical","orient":"none","legendX":240,"legendY":6,"symbolStrokeWidth":1.5,"symbolSize":81,"labelFontSize":10,"titleFontSize":14,"padding":6,"rowPadding":0,"titlePadding":2}}}},
   {"data":{"name":"A_rnd"},"mark":{"type":"line","interpolate":"monotone","strokeWidth":1.2,"strokeDash":[3,2],"clip":true},
    "encoding":{
     "x":{"field":"x","type":"quantitative","axis":{"values":[-3,-2,-1,0,1,2],"labelExpr":"datum.value==-3?'10⁻³':datum.value==-2?'10⁻²':datum.value==-1?'10⁻¹':datum.value==0?'10⁰':datum.value==1?'10¹':'10²'","title":"β"}},
     "y":{"field":"y","type":"quantitative","axis":{"values":[0,1,2,3,4,5,6],"title":"S(ρ)","titlePadding":26}},
     "color":{"field":"s","type":"nominal","scale":{"domain":["Low","Medium","High"],"range":["#2a86c8","#ffa040","#22b522"]},"legend":{"title":"Randomized","orient":"none","legendX":240,"legendY":67,"symbolStrokeWidth":1.5,"symbolSize":81,"symbolDash":[3,2],"labelFontSize":10,"titleFontSize":14,"padding":6,"rowPadding":0,"titlePadding":2}}}}
  ]
 },
 {
  "width":357,"height":208,
  "title":{"text":"D","anchor":"start","frame":"group","dx":-41,"dy":10,"fontSize":19,"offset":0},
  "data":{"name":"D"},
  "mark":{"type":"line","interpolate":"monotone","strokeWidth":1.5,"clip":true},
  "encoding":{
   "x":{"field":"x","type":"quantitative","scale":{"domain":[-3.25,2.25],"nice":false,"zero":false},"axis":{"values":[-3,-2,-1,0,1,2],"labelExpr":"datum.value==-3?'10⁻³':datum.value==-2?'10⁻²':datum.value==-1?'10⁻¹':datum.value==0?'10⁰':datum.value==1?'10¹':'10²'","title":"β"}},
   "y":{"field":"y","type":"quantitative","scale":{"domain":[-4.9,101.8],"nice":false,"zero":false},"axis":{"values":[0,20,40,60,80],"title":"S(ρ‖σ)","titlePadding":16}},
   "color":{"field":"s","type":"nominal","scale":{"domain":["0.10","0.15","0.20","0.25","0.30","0.35","0.40","0.45","0.50","0.55","0.60","0.65","Perc 0.7"],"range":["#e6f2f9","#d8ecf7","#c6e3f2","#afd9ee","#93cdea","#6cc0e4","#3cb2df","#1ea5d8","#1c95cd","#1c82bf","#1e6fae","#1e5a98","#ff9a3c"]},"legend":{"title":"Thresholds","orient":"none","legendX":16,"legendY":4,"symbolStrokeWidth":2,"symbolSize":144,"labelFontSize":8.5,"titleFontSize":13,"padding":7,"rowPadding":0,"titlePadding":6}}
  }
 }
 ]
},
{
 "title":{"text":"FIX","fontSize":14,"anchor":"middle","dx":1,"offset":6},
 "spacing":12,
 "resolve":{"scale":{"color":"independent"}},
 "vconcat":[
 {
  "width":357,"height":155,
  "title":{"text":"B","anchor":"start","frame":"group","dx":-32,"dy":10,"fontSize":19,"offset":0},
  "resolve":{"scale":{"color":"independent"}},
  "layer":[
   {"data":{"name":"B_emp"},"mark":{"type":"line","interpolate":"monotone","strokeWidth":1.2,"clip":true},
    "encoding":{
     "x":{"field":"x","type":"quantitative","scale":{"domain":[-3.25,2.25],"nice":false,"zero":false},"axis":{"values":[-3,-2,-1,0,1,2],"labelExpr":"datum.value==-3?'10⁻³':datum.value==-2?'10⁻²':datum.value==-1?'10⁻¹':datum.value==0?'10⁰':datum.value==1?'10¹':'10²'","title":"β"}},
     "y":{"field":"y","type":"quantitative","scale":{"domain":[-0.32,6.79],"nice":false,"zero":false},"axis":{"values":[0,1,2,3,4,5,6],"title":null}},
     "color":{"field":"s","type":"nominal","scale":{"domain":["Low","Medium","High"],"range":["#1f82c4","#ff8c1a","#2ca53c"]},"legend":null}}},
   {"data":{"name":"B_rnd"},"mark":{"type":"line","interpolate":"monotone","strokeWidth":1.2,"strokeDash":[3,2],"clip":true},
    "encoding":{
     "x":{"field":"x","type":"quantitative","axis":{"values":[-3,-2,-1,0,1,2],"labelExpr":"datum.value==-3?'10⁻³':datum.value==-2?'10⁻²':datum.value==-1?'10⁻¹':datum.value==0?'10⁰':datum.value==1?'10¹':'10²'","title":"β"}},
     "y":{"field":"y","type":"quantitative","axis":{"values":[0,1,2,3,4,5,6],"title":null}},
     "color":{"field":"s","type":"nominal","scale":{"domain":["Low","Medium","High"],"range":["#2a86c8","#ffa040","#22b522"]},"legend":null}}}
  ]
 },
 {
  "width":357,"height":208,
  "title":{"text":"E","anchor":"start","frame":"group","dx":-34,"dy":10,"fontSize":19,"offset":0},
  "data":{"name":"E"},
  "mark":{"type":"line","interpolate":"monotone","strokeWidth":1.5,"clip":true},
  "encoding":{
   "x":{"field":"x","type":"quantitative","scale":{"domain":[-3.25,2.25],"nice":false,"zero":false},"axis":{"values":[-3,-2,-1,0,1,2],"labelExpr":"datum.value==-3?'10⁻³':datum.value==-2?'10⁻²':datum.value==-1?'10⁻¹':datum.value==0?'10⁰':datum.value==1?'10¹':'10²'","title":"β"}},
   "y":{"field":"y","type":"quantitative","scale":{"domain":[-4.9,101.8],"nice":false,"zero":false},"axis":{"values":[0,20,40,60,80],"title":null}},
   "color":{"field":"s","type":"nominal","scale":{"domain":["0.10","0.15","0.20","0.25","0.30","0.35","0.40","0.45","0.50","0.55","0.60","0.65","Perc 0.7"],"range":["#e9f5fb","#d9eef8","#c4e6f4","#addcf0","#94d1ec","#7ac7e8","#5fbde4","#45b3e0","#2eaadb","#22a4d9","#1ca0d6","#199dd4","#ff9a3c"]},"legend":null}
  }
 }
 ]
},
{
 "title":{"text":"GSR","fontSize":14,"anchor":"middle","dx":-20,"offset":6},
 "spacing":12,
 "resolve":{"scale":{"color":"independent"}},
 "vconcat":[
 {
  "width":357,"height":155,
  "title":{"text":"C","anchor":"start","frame":"group","dx":-39,"dy":10,"fontSize":19,"offset":0},
  "resolve":{"scale":{"color":"independent"},"axis":{"y":"independent"}},
  "layer":[
   {"data":{"name":"C_emp"},"mark":{"type":"line","interpolate":"monotone","strokeWidth":1.2,"clip":true},
    "encoding":{
     "x":{"field":"x","type":"quantitative","scale":{"domain":[-3.25,2.25],"nice":false,"zero":false},"axis":{"values":[-3,-2,-1,0,1,2],"labelExpr":"datum.value==-3?'10⁻³':datum.value==-2?'10⁻²':datum.value==-1?'10⁻¹':datum.value==0?'10⁰':datum.value==1?'10¹':'10²'","title":"β"}},
     "y":{"field":"y","type":"quantitative","scale":{"domain":[-0.32,6.79],"nice":false,"zero":false},"axis":{"values":[0,1,2,3,4,5,6],"title":null}},
     "color":{"field":"s","type":"nominal","scale":{"domain":["Low","Medium","High"],"range":["#1f82c4","#ff8c1a","#2ca53c"]},"legend":null}}},
   {"data":{"name":"C_rnd"},"mark":{"type":"line","interpolate":"monotone","strokeWidth":1.2,"strokeDash":[3,2],"clip":true},
    "encoding":{
     "x":{"field":"x","type":"quantitative","axis":{"values":[-3,-2,-1,0,1,2],"labelExpr":"datum.value==-3?'10⁻³':datum.value==-2?'10⁻²':datum.value==-1?'10⁻¹':datum.value==0?'10⁰':datum.value==1?'10¹':'10²'","title":"β"}},
     "y":{"field":"y","type":"quantitative","axis":null},
     "color":{"field":"s","type":"nominal","scale":{"domain":["Low","Medium","High"],"range":["#2a86c8","#ffa040","#22b522"]},"legend":null}}},
   {"data":{"name":"C_emp"},"mark":{"type":"line","opacity":0},
    "encoding":{
     "x":{"field":"x","type":"quantitative","axis":{"values":[-3,-2,-1,0,1,2],"labelExpr":"datum.value==-3?'10⁻³':datum.value==-2?'10⁻²':datum.value==-1?'10⁻¹':datum.value==0?'10⁰':datum.value==1?'10¹':'10²'","title":"β"}},
     "y":{"field":"y","type":"quantitative","axis":{"orient":"right","labels":false,"grid":false,"title":["Weighted","random graph model"],"titleAngle":90,"titleFont":"Liberation Sans","titleFontStyle":"normal","titleFontSize":15,"titleColor":"#111111","titlePadding":14}}}}
  ]
 },
 {
  "width":357,"height":208,
  "title":{"text":"F","anchor":"start","frame":"group","dx":-40,"dy":10,"fontSize":19,"offset":0},
  "resolve":{"axis":{"y":"independent"}},
  "layer":[
   {"data":{"name":"F"},"mark":{"type":"line","interpolate":"monotone","strokeWidth":1.5,"clip":true},
    "encoding":{
     "x":{"field":"x","type":"quantitative","scale":{"domain":[-3.25,2.25],"nice":false,"zero":false},"axis":{"values":[-3,-2,-1,0,1,2],"labelExpr":"datum.value==-3?'10⁻³':datum.value==-2?'10⁻²':datum.value==-1?'10⁻¹':datum.value==0?'10⁰':datum.value==1?'10¹':'10²'","title":"β"}},
     "y":{"field":"y","type":"quantitative","scale":{"domain":[-4.9,101.8],"nice":false,"zero":false},"axis":{"values":[0,20,40,60,80],"title":null}},
     "color":{"field":"s","type":"nominal","scale":{"domain":["0.10","0.15","0.20","0.25","0.30","0.35","0.40","0.45","0.50","0.55","0.60","0.65","Perc 0.7"],"range":["#e9f5fb","#d9eef8","#c4e6f4","#addcf0","#94d1ec","#7ac7e8","#5fbde4","#45b3e0","#2eaadb","#22a4d9","#1ca0d6","#199dd4","#ff9a3c"]},"legend":null}}},
   {"data":{"name":"F"},"mark":{"type":"line","opacity":0},
    "encoding":{
     "x":{"field":"x","type":"quantitative","axis":{"values":[-3,-2,-1,0,1,2],"labelExpr":"datum.value==-3?'10⁻³':datum.value==-2?'10⁻²':datum.value==-1?'10⁻¹':datum.value==0?'10⁰':datum.value==1?'10¹':'10²'","title":"β"}},
     "y":{"field":"y","type":"quantitative","axis":{"orient":"right","labels":false,"grid":false,"title":["High motion","Weighted random graph model"],"titleAngle":90,"titleFont":"Liberation Sans","titleFontStyle":"normal","titleFontSize":15,"titleColor":"#111111","titlePadding":14}}}}
  ]
 }
 ]
}
]
}
